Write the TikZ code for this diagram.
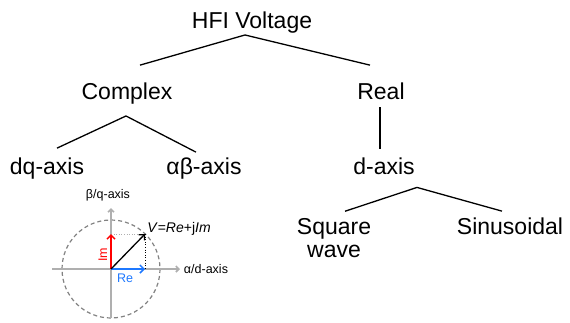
\documentclass[tikz,border=0pt]{standalone}
\usepackage{fontspec}
\setmainfont{Liberation Sans}
\usepackage{tikz}
\usetikzlibrary{arrows.meta}
\definecolor{imred}{RGB}{255,0,0}
\definecolor{reblue}{RGB}{30,120,255}
\definecolor{axgray}{RGB}{175,175,175}
\definecolor{circgray}{RGB}{130,130,130}
\begin{document}
\begin{tikzpicture}[x=1pt,y=-1pt,
  lvl/.style={inner sep=0pt,anchor=base,align=center,font=\fontsize{23}{22.5}\selectfont},
  branch/.style={black,line width=1.3pt},
  lab/.style={inner sep=0pt,anchor=base,font=\fontsize{12.5}{14}\selectfont},
  axis/.style={axgray,line width=1.6pt,-{Straight Barb[length=3pt,width=6pt]}},
  vec/.style={line width=1.5pt,-{Straight Barb[length=4pt,width=8pt]}},
  guide/.style={line width=0.6pt,dotted}]
\useasboundingbox (0,0) rectangle (570,322);
\node[lvl] (hfi) at (252,28) {HFI Voltage};
\node[lvl] (cplx) at (127,99) {Complex};
\node[lvl] (real) at (381,99) {Real};
\node[lvl] (dq) at (47,174) {dq-axis};
\node[lvl] (ab) at (204,174) {αβ-axis};
\node[lvl] (d) at (384,174) {d-axis};
\node[lvl] (sq) at (334,257) {Square\\wave};
\node[lvl] (sin) at (510,234) {Sinusoidal};
\draw[branch] ([xshift=13pt,yshift=17pt]cplx.north) -- ([xshift=-7pt,yshift=-2pt]hfi.south) -- ([xshift=-11pt,yshift=17pt]real.north);
\draw[branch] ([xshift=10pt,yshift=9pt]dq.north) -- ([xshift=-1pt,yshift=-12pt]cplx.south) -- ([xshift=-8pt,yshift=5pt]ab.north);
\draw[branch] ([xshift=-1pt,yshift=-8pt]real.south) -- ([xshift=-4pt,yshift=8pt]d.north);
\draw[branch] ([xshift=11pt,yshift=7pt]sq.north) -- ([xshift=33pt,yshift=-13pt]d.south) -- ([xshift=-8pt,yshift=6pt]sin.north);
\coordinate (o) at (111,269);
\coordinate (tip) at (145,234);
\draw[circgray,line width=1.2pt,dash pattern=on 4pt off 3pt] (o) circle (49);
\draw[axis] (52,269) -- (180,269);
\draw[axis] (111,318) -- (111,208);
\draw[guide,axgray] (o |- tip) -- (tip);
\draw[guide,black] (tip) -- (tip |- o);
\draw[vec,imred] (o) -- (o |- tip);
\draw[vec,reblue] (o) -- (tip |- o);
\draw[vec,black,line width=1.3pt] (o) -- (tip);
\node[lab] (qax) at (108,198) {β/q-axis};
\node[lab] (dax) at (206,273) {α/d-axis};
\node[lab,font=\fontsize{14}{16}\selectfont] (vlab) at (179,232) {\textit{V}=\textit{Re}+j\textit{Im}};
\node[lab,text=reblue] (relab) at (125,282) {Re};
\node[lab,text=imred,rotate=90] (imlab) at (107,255) {Im};
\end{tikzpicture}
\end{document}
